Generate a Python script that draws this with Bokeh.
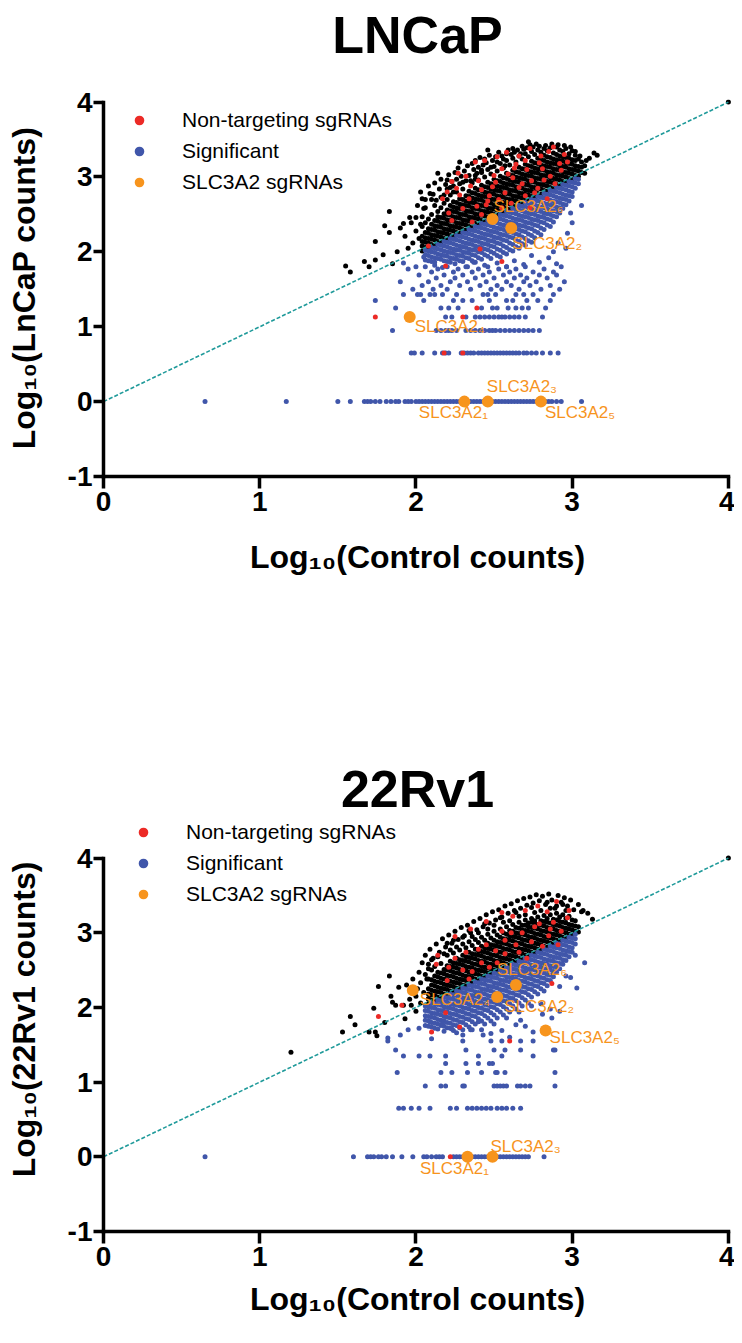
from bokeh.plotting import figure
from bokeh.models import Range1d, FixedTicker, Legend, LegendItem, ColumnDataSource
from bokeh.layouts import column
from bokeh.core.properties import value
from bokeh.embed import file_html
from bokeh.resources import INLINE

FONT = "Liberation Sans"
BLACK = "#000000"
RED = "#EC2A26"
BLUE = "#4056AA"
ORANGE = "#F7941D"
TEAL = "#1F9A9A"

# ---------------- data (log10 counts: x = control, y = treated) ----------------
diag_x = [0, 4]
diag_y = [0, 4]
x_ticks = [0, 1, 2, 3, 4]
y_ticks = [-1, 0, 1, 2, 3, 4]
slc_labels = ["SLC3A2\u2081", "SLC3A2\u2082", "SLC3A2\u2083",
              "SLC3A2\u2084", "SLC3A2\u2085", "SLC3A2\u2086"]

# ---- LNCaP ----
lncap_black_sparse = [(1.55, 1.81), (1.58, 1.73), (1.67, 1.87), (1.70, 1.80), (1.74, 1.89), (1.74, 2.14),
                      (1.79, 1.96), (1.80, 2.35), (1.83, 2.54), (1.83, 2.26), (1.85, 1.84), (1.88, 2.00),
                      (1.90, 2.32), (1.92, 2.38), (1.93, 2.21), (1.95, 2.05), (1.96, 2.46), (1.97, 2.39),
                      (1.98, 2.12), (2.00, 2.46), (2.00, 2.28), (2.02, 2.18), (2.03, 2.37), (2.04, 2.71),
                      (2.05, 2.58), (2.09, 2.78), (3.14, 3.32), (3.16, 3.29), (4.00, 4.00)]
lncap_black_upper = [(2.01, 2.62), (2.03, 2.80), (2.06, 2.70), (2.08, 2.88), (2.11, 2.77), (2.12, 2.92),
                     (2.13, 2.69), (2.15, 2.84), (2.16, 2.97), (2.18, 2.76), (2.19, 2.90), (2.21, 3.03),
                     (2.22, 2.86), (2.20, 2.96), (2.23, 2.94), (2.25, 3.06), (2.26, 2.97), (2.27, 3.12),
                     (2.29, 3.01), (2.30, 2.93), (2.31, 3.08), (2.24, 2.80), (2.33, 3.15), (2.34, 3.02),
                     (2.35, 2.95), (2.37, 3.10), (2.38, 3.22), (2.39, 3.05), (2.36, 3.18), (2.40, 3.13),
                     (2.41, 3.26), (2.43, 3.16), (2.44, 3.24), (2.45, 3.19), (2.47, 3.29), (2.48, 3.13),
                     (2.49, 3.22), (2.42, 3.09), (2.51, 3.27), (2.52, 3.20), (2.53, 3.33), (2.55, 3.28),
                     (2.56, 3.24), (2.58, 3.31), (2.59, 3.36), (2.57, 3.15), (2.61, 3.30), (2.62, 3.38),
                     (2.63, 3.33), (2.65, 3.36), (2.67, 3.31), (2.68, 3.41), (2.69, 3.37), (2.71, 3.39),
                     (2.73, 3.43), (2.75, 3.40), (2.77, 3.44), (2.79, 3.41), (2.83, 3.42), (2.87, 3.44),
                     (2.91, 3.43), (2.95, 3.42), (2.99, 3.40), (3.02, 3.34), (3.05, 3.28), (3.09, 3.22),
                     (3.11, 3.25), (2.14, 3.05), (2.28, 3.20), (2.46, 3.36), (2.72, 3.47), (2.38, 2.97)]
lncap_black_cols = [
    (2.04, [2.01, 2.08, 2.14, 2.21, 2.34, 2.47]),
    (2.06, [2.06, 2.13, 2.19, 2.26, 2.39, 2.59]),
    (2.08, [2.05, 2.12, 2.18, 2.25, 2.31, 2.44]),
    (2.10, [2.10, 2.17, 2.23, 2.30, 2.37, 2.50, 2.70]),
    (2.12, [2.09, 2.16, 2.22, 2.29, 2.35, 2.42, 2.62]),
    (2.14, [2.14, 2.21, 2.27, 2.34, 2.41, 2.47, 2.54]),
    (2.16, [2.13, 2.20, 2.26, 2.33, 2.39, 2.46, 2.59, 2.73]),
    (2.18, [2.18, 2.25, 2.31, 2.38, 2.45, 2.51, 2.65]),
    (2.20, [2.17, 2.24, 2.30, 2.37, 2.43, 2.50, 2.56, 2.70, 2.84]),
    (2.22, [2.22, 2.29, 2.35, 2.42, 2.49, 2.55, 2.62, 2.76]),
    (2.24, [2.21, 2.28, 2.34, 2.41, 2.47, 2.54, 2.60, 2.67, 2.88]),
    (2.26, [2.26, 2.33, 2.39, 2.46, 2.53, 2.59, 2.66, 2.80]),
    (2.28, [2.25, 2.32, 2.38, 2.45, 2.51, 2.58, 2.64, 2.71, 2.91]),
    (2.30, [2.30, 2.37, 2.43, 2.50, 2.57, 2.63, 2.70, 2.84]),
    (2.32, [2.29, 2.36, 2.42, 2.49, 2.55, 2.62, 2.68, 2.75, 2.95]),
    (2.34, [2.34, 2.41, 2.47, 2.54, 2.61, 2.67, 2.74, 2.81]),
    (2.36, [2.33, 2.40, 2.46, 2.53, 2.59, 2.66, 2.72, 2.79, 2.92]),
    (2.38, [2.38, 2.45, 2.51, 2.58, 2.65, 2.71, 2.78, 2.85, 3.02]),
    (2.40, [2.37, 2.44, 2.50, 2.57, 2.63, 2.70, 2.76, 2.83, 2.96]),
    (2.42, [2.42, 2.49, 2.55, 2.62, 2.69, 2.75, 2.82, 2.89, 3.06]),
    (2.44, [2.41, 2.48, 2.54, 2.61, 2.67, 2.74, 2.80, 2.87, 3.00]),
    (2.46, [2.46, 2.53, 2.59, 2.66, 2.73, 2.79, 2.86, 2.93, 3.10]),
    (2.48, [2.45, 2.52, 2.58, 2.65, 2.71, 2.78, 2.84, 2.91, 3.04]),
    (2.50, [2.50, 2.57, 2.63, 2.70, 2.77, 2.83, 2.90, 2.97, 3.14]),
    (2.52, [2.49, 2.56, 2.62, 2.69, 2.75, 2.82, 2.88, 2.95, 3.08]),
    (2.54, [2.54, 2.61, 2.67, 2.74, 2.81, 2.87, 2.94, 3.01, 3.18]),
    (2.56, [2.53, 2.60, 2.66, 2.73, 2.79, 2.86, 2.92, 2.99, 3.12]),
    (2.58, [2.58, 2.65, 2.71, 2.78, 2.85, 2.91, 2.98, 3.05, 3.22]),
    (2.60, [2.57, 2.64, 2.70, 2.77, 2.83, 2.90, 2.96, 3.03, 3.16]),
    (2.62, [2.62, 2.69, 2.75, 2.82, 2.89, 2.95, 3.02, 3.09, 3.25]),
    (2.64, [2.61, 2.68, 2.74, 2.81, 2.87, 2.94, 3.00, 3.07, 3.20]),
    (2.66, [2.66, 2.73, 2.79, 2.86, 2.93, 2.99, 3.06, 3.13, 3.28]),
    (2.68, [2.65, 2.72, 2.78, 2.85, 2.91, 2.98, 3.04, 3.11, 3.24]),
    (2.70, [2.70, 2.77, 2.83, 2.90, 2.97, 3.03, 3.10, 3.17, 3.31]),
    (2.72, [2.69, 2.76, 2.82, 2.89, 2.95, 3.02, 3.08, 3.15, 3.27]),
    (2.74, [2.74, 2.81, 2.87, 2.94, 3.01, 3.07, 3.14, 3.21, 3.34]),
    (2.76, [2.73, 2.80, 2.86, 2.93, 2.99, 3.06, 3.12, 3.19, 3.30]),
    (2.78, [2.78, 2.85, 2.91, 2.98, 3.05, 3.11, 3.18, 3.25, 3.36]),
    (2.80, [2.77, 2.84, 2.90, 2.97, 3.03, 3.10, 3.16, 3.23, 3.33]),
    (2.82, [2.82, 2.89, 2.95, 3.02, 3.09, 3.15, 3.22, 3.29, 3.38]),
    (2.84, [2.81, 2.88, 2.94, 3.01, 3.07, 3.14, 3.20, 3.27, 3.35]),
    (2.86, [2.86, 2.93, 2.99, 3.06, 3.13, 3.19, 3.26, 3.39]),
    (2.88, [2.85, 2.92, 2.98, 3.05, 3.11, 3.18, 3.24, 3.32]),
    (2.90, [2.90, 2.97, 3.03, 3.10, 3.17, 3.23, 3.30, 3.40]),
    (2.92, [2.89, 2.96, 3.02, 3.09, 3.15, 3.22, 3.28, 3.36]),
    (2.94, [2.94, 3.01, 3.07, 3.14, 3.21, 3.27, 3.34]),
    (2.96, [2.93, 3.00, 3.06, 3.13, 3.19, 3.26, 3.38]),
    (2.98, [2.98, 3.05, 3.11, 3.18, 3.25, 3.31]),
    (3.00, [2.97, 3.04, 3.10, 3.17, 3.23, 3.35]),
    (3.02, [3.02, 3.09, 3.15, 3.22, 3.29]),
    (3.04, [3.01, 3.08, 3.14, 3.24]),
    (3.06, [3.06, 3.13, 3.20]),
    (3.08, [3.05, 3.15]),
]
lncap_blue_cols = [
    (2.06, [2.02, 1.96, 1.89]),
    (2.08, [2.01, 1.95, 1.88]),
    (2.10, [2.06, 2.00, 1.93, 1.87]),
    (2.12, [2.05, 1.99, 1.92, 1.86]),
    (2.14, [2.10, 2.04, 1.97, 1.91]),
    (2.16, [2.09, 2.03, 1.96, 1.90]),
    (2.18, [2.14, 2.08, 2.01, 1.95, 1.88]),
    (2.20, [2.13, 2.07, 2.00, 1.94, 1.87]),
    (2.22, [2.18, 2.12, 2.05, 1.99, 1.92, 1.86]),
    (2.24, [2.17, 2.11, 2.04, 1.98, 1.91]),
    (2.26, [2.22, 2.16, 2.09, 2.03, 1.96, 1.90]),
    (2.28, [2.21, 2.15, 2.08, 2.02, 1.95, 1.88]),
    (2.30, [2.26, 2.20, 2.13, 2.07, 2.00, 1.94, 1.87]),
    (2.32, [2.25, 2.19, 2.12, 2.06, 1.99, 1.92]),
    (2.34, [2.30, 2.24, 2.17, 2.11, 2.04, 1.98, 1.91]),
    (2.36, [2.29, 2.23, 2.16, 2.10, 2.03, 1.96, 1.88]),
    (2.38, [2.34, 2.28, 2.21, 2.15, 2.08, 2.02, 1.95, 1.86]),
    (2.40, [2.33, 2.27, 2.20, 2.14, 2.07, 2.00, 1.92]),
    (2.42, [2.38, 2.32, 2.25, 2.19, 2.12, 2.06, 1.99, 1.90]),
    (2.44, [2.37, 2.31, 2.24, 2.18, 2.11, 2.04, 1.96]),
    (2.46, [2.42, 2.36, 2.29, 2.23, 2.16, 2.10, 2.03, 1.94]),
    (2.48, [2.41, 2.35, 2.28, 2.22, 2.15, 2.08, 2.00, 1.91]),
    (2.50, [2.46, 2.40, 2.33, 2.27, 2.20, 2.14, 2.07, 1.98]),
    (2.52, [2.45, 2.39, 2.32, 2.26, 2.19, 2.12, 2.04, 1.95]),
    (2.54, [2.50, 2.44, 2.37, 2.31, 2.24, 2.18, 2.11, 2.02, 1.93]),
    (2.56, [2.49, 2.43, 2.36, 2.30, 2.23, 2.16, 2.08, 1.99]),
    (2.58, [2.54, 2.48, 2.41, 2.35, 2.28, 2.22, 2.15, 2.06, 1.97]),
    (2.60, [2.53, 2.47, 2.40, 2.34, 2.27, 2.20, 2.12, 2.03]),
    (2.62, [2.58, 2.52, 2.45, 2.39, 2.32, 2.26, 2.19, 2.10, 2.01]),
    (2.64, [2.57, 2.51, 2.44, 2.38, 2.31, 2.24, 2.16, 2.07]),
    (2.66, [2.62, 2.56, 2.49, 2.43, 2.36, 2.30, 2.23, 2.14, 2.05]),
    (2.68, [2.61, 2.55, 2.48, 2.42, 2.35, 2.28, 2.20, 2.11]),
    (2.70, [2.66, 2.60, 2.53, 2.47, 2.40, 2.34, 2.27, 2.18, 2.09]),
    (2.72, [2.65, 2.59, 2.52, 2.46, 2.39, 2.32, 2.24, 2.15]),
    (2.74, [2.70, 2.64, 2.57, 2.51, 2.44, 2.38, 2.31, 2.22, 2.13]),
    (2.76, [2.69, 2.63, 2.56, 2.50, 2.43, 2.36, 2.28, 2.19]),
    (2.78, [2.74, 2.68, 2.61, 2.55, 2.48, 2.42, 2.35, 2.26]),
    (2.80, [2.73, 2.67, 2.60, 2.54, 2.47, 2.40, 2.32, 2.23]),
    (2.82, [2.78, 2.72, 2.65, 2.59, 2.52, 2.46, 2.39, 2.30]),
    (2.84, [2.77, 2.71, 2.64, 2.58, 2.51, 2.44, 2.36]),
    (2.86, [2.82, 2.76, 2.69, 2.63, 2.56, 2.50, 2.43, 2.34]),
    (2.88, [2.81, 2.75, 2.68, 2.62, 2.55, 2.48, 2.40]),
    (2.90, [2.86, 2.80, 2.73, 2.67, 2.60, 2.54, 2.47]),
    (2.92, [2.85, 2.79, 2.72, 2.66, 2.59, 2.52]),
    (2.94, [2.90, 2.84, 2.77, 2.71, 2.64, 2.58]),
    (2.96, [2.89, 2.83, 2.76, 2.70, 2.63]),
    (2.98, [2.94, 2.88, 2.81, 2.75, 2.68]),
    (3.00, [2.93, 2.87, 2.80, 2.74]),
    (3.02, [2.98, 2.92, 2.85]),
    (3.04, [2.97, 2.91]),
]
lncap_blue_sparse = [(1.92, 1.85), (2.00, 1.80), (2.05, 1.93), (2.12, 1.82), (2.17, 1.79), (2.25, 1.84),
                     (2.33, 1.80), (2.37, 1.86), (2.44, 1.82), (2.52, 1.85), (2.58, 1.80), (2.63, 1.88),
                     (2.69, 1.83), (2.74, 1.95), (2.79, 1.86), (2.85, 1.92), (2.90, 1.84), (2.96, 2.05),
                     (3.00, 2.39), (2.91, 2.12), (2.97, 2.25), (2.88, 2.00), (3.06, 2.62), (2.99, 2.52)]
lncap_blue_rows = [
    (0.00, [0.65, 1.17, 1.50, 1.58, 1.67, 1.69, 1.71, 1.74, 1.77, 1.81, 1.84, 1.87, 1.89, 1.93, 1.95,
            1.97, 2.00, 2.02, 2.04, 2.06, 2.08, 2.10, 2.12, 2.14, 2.16, 2.18, 2.20, 2.22, 2.24, 2.26,
            2.28, 2.30, 2.33, 2.35, 2.37, 2.39, 2.41, 2.43, 2.45, 2.47, 2.49, 2.51, 2.53, 2.55, 2.57,
            2.59, 2.61, 2.63, 2.65, 2.67, 2.69, 2.71, 2.73, 2.75, 2.77, 2.79, 2.81, 2.83, 2.85, 2.87,
            2.90, 2.93, 3.06]),
    (0.65, [1.97, 1.99, 2.04, 2.12, 2.17, 2.19, 2.21, 2.29, 2.31, 2.33, 2.35, 2.37, 2.40, 2.42, 2.44,
            2.46, 2.48, 2.50, 2.52, 2.54, 2.56, 2.58, 2.60, 2.62, 2.64, 2.66, 2.69, 2.71, 2.74, 2.77,
            2.81, 2.86, 2.91]),
    (0.95, [1.85, 2.13, 2.16, 2.19, 2.21, 2.23, 2.26, 2.32, 2.35, 2.38, 2.41, 2.44, 2.47, 2.49, 2.51,
            2.54, 2.57, 2.60, 2.63, 2.66, 2.69, 2.72, 2.75, 2.79]),
    (1.13, [2.19, 2.23, 2.32, 2.38, 2.41, 2.44, 2.47, 2.50, 2.53, 2.55, 2.57, 2.60, 2.63, 2.66, 2.70, 2.81]),
    (1.25, [1.87, 2.16, 2.21, 2.27, 2.42, 2.49, 2.52, 2.59, 2.64, 2.68, 2.72, 2.83]),
    (1.35, [1.74, 2.05, 2.24, 2.30, 2.36, 2.47, 2.58, 2.62, 2.71, 2.78, 2.86]),
    (1.43, [1.92, 2.01, 2.03, 2.09, 2.12, 2.17, 2.26, 2.43, 2.46, 2.51, 2.64, 2.69, 2.75, 2.88]),
    (1.50, [1.98, 2.11, 2.20, 2.35, 2.48, 2.55, 2.66, 2.80, 2.92]),
    (1.55, [2.04, 2.16, 2.28, 2.41, 2.52, 2.61, 2.73, 2.86]),
    (1.60, [1.90, 2.08, 2.22, 2.33, 2.45, 2.58, 2.69, 2.77, 2.95]),
    (1.65, [2.13, 2.25, 2.38, 2.50, 2.63, 2.71, 2.84]),
    (1.69, [2.02, 2.18, 2.30, 2.43, 2.56, 2.67, 2.79, 2.90]),
    (1.73, [2.10, 2.24, 2.36, 2.47, 2.60, 2.75, 2.88]),
    (1.77, [1.95, 2.14, 2.27, 2.40, 2.53, 2.64, 2.82]),
    (1.80, [2.06, 2.20, 2.32, 2.46, 2.58, 2.70, 2.93]),
]
lncap_red = [(2.23, 2.94), (2.26, 2.85), (2.34, 2.71), (2.42, 2.83), (2.45, 2.63), (2.51, 2.93),
             (2.55, 3.11), (2.62, 2.99), (2.64, 3.17), (2.68, 2.91), (2.74, 2.95), (2.76, 2.79),
             (2.81, 3.11), (2.85, 3.34), (2.86, 3.01), (2.89, 2.91), (2.40, 2.95), (2.30, 2.58),
             (2.23, 2.42), (2.47, 2.75), (2.57, 2.79), (2.70, 2.75), (2.55, 2.59), (2.17, 2.71),
             (2.21, 2.52), (2.32, 3.01), (2.38, 3.20), (2.52, 3.27), (2.66, 3.28), (2.79, 3.19),
             (2.93, 3.09), (2.42, 2.50), (2.61, 2.65), (2.73, 2.59), (2.84, 2.71), (2.36, 2.40),
             (2.49, 2.87), (2.59, 3.04), (2.71, 3.10), (2.97, 3.20), (2.78, 2.85), (2.28, 2.76),
             (2.27, 3.05), (2.44, 3.22), (2.58, 3.33), (2.73, 3.38), (2.88, 3.40), (2.35, 2.88),
             (2.50, 3.02), (2.63, 3.12), (2.80, 3.28), (2.95, 3.30), (2.46, 2.68), (2.66, 2.86),
             (2.82, 2.96), (2.20, 2.80), (2.53, 2.70), (2.39, 2.61), (2.92, 3.18), (2.70, 3.22),
             (1.74, 1.13), (2.08, 2.08), (2.19, 1.81), (2.39, 1.25), (2.41, 2.04), (2.55, 1.87),
             (2.18, 0.65), (2.30, 0.65), (2.30, 1.13)]
lncap_slc_x = [2.31, 2.61, 2.46, 1.96, 2.80, 2.49]
lncap_slc_y = [0.00, 2.32, 0.00, 1.13, 0.00, 2.44]

# ---- 22Rv1 ----
rv1_black_sparse = [(1.20, 1.40), (1.53, 1.67), (1.58, 1.88), (1.61, 1.77), (1.70, 1.67), (1.73, 1.99),
                    (1.74, 1.67), (1.75, 1.62), (1.76, 2.28), (1.80, 1.80), (1.83, 2.42), (1.84, 2.15),
                    (1.85, 2.07), (1.87, 2.03), (1.89, 2.27), (1.92, 2.03), (1.93, 1.85), (1.94, 2.30),
                    (1.96, 2.11), (1.97, 2.03), (2.00, 1.95), (2.00, 2.15), (2.01, 2.25), (2.03, 2.33),
                    (2.03, 2.06), (2.04, 2.60), (2.05, 2.20), (2.06, 2.44), (2.07, 2.38), (2.08, 2.52),
                    (2.02, 2.47), (1.98, 2.38), (2.08, 2.11), (3.06, 3.28), (3.13, 3.18), (4.00, 4.00)]
rv1_black_upper = [(2.06, 2.70), (2.09, 2.78), (2.11, 2.66), (2.13, 2.85), (2.15, 2.74), (2.17, 2.92),
                   (2.19, 2.81), (2.21, 2.97), (2.23, 2.86), (2.25, 3.02), (2.27, 2.91), (2.29, 3.07),
                   (2.31, 2.96), (2.33, 3.10), (2.35, 3.00), (2.37, 3.15), (2.39, 3.04), (2.41, 3.19),
                   (2.43, 3.08), (2.45, 3.24), (2.47, 3.13), (2.49, 3.28), (2.51, 3.17), (2.53, 3.31),
                   (2.55, 3.21), (2.57, 3.36), (2.59, 3.26), (2.61, 3.39), (2.63, 3.30), (2.65, 3.43),
                   (2.67, 3.33), (2.69, 3.46), (2.71, 3.37), (2.73, 3.48), (2.75, 3.40), (2.77, 3.51),
                   (2.79, 3.43), (2.81, 3.49), (2.83, 3.38), (2.85, 3.52), (2.87, 3.44), (2.89, 3.33),
                   (2.91, 3.50), (2.93, 3.41), (2.95, 3.47), (2.97, 3.36), (2.99, 3.44), (3.01, 3.31),
                   (3.04, 3.38), (3.07, 3.30), (3.10, 3.26), (2.20, 2.86), (2.30, 2.94), (2.40, 3.00),
                   (2.50, 3.10), (2.60, 3.16), (2.70, 3.24), (2.80, 3.30), (2.90, 3.36), (2.36, 2.95),
                   (2.46, 3.05), (2.56, 3.14), (2.66, 3.22), (2.76, 3.27), (2.86, 3.33), (2.96, 3.30),
                   (2.24, 2.90), (2.34, 3.03), (2.44, 3.12), (2.54, 3.20), (2.64, 3.27), (2.74, 3.34),
                   (2.84, 3.41), (2.94, 3.38)]
rv1_black_cols = [
    (2.08, [2.05, 2.12, 2.18, 2.25, 2.38, 2.58]),
    (2.10, [2.10, 2.17, 2.23, 2.30, 2.37, 2.50, 2.64]),
    (2.12, [2.09, 2.16, 2.22, 2.29, 2.35, 2.42, 2.55]),
    (2.14, [2.14, 2.21, 2.27, 2.34, 2.41, 2.47, 2.68]),
    (2.16, [2.13, 2.20, 2.26, 2.33, 2.39, 2.46, 2.59]),
    (2.18, [2.18, 2.25, 2.31, 2.38, 2.45, 2.51, 2.72]),
    (2.20, [2.17, 2.24, 2.30, 2.37, 2.43, 2.50, 2.56, 2.70]),
    (2.22, [2.22, 2.29, 2.35, 2.42, 2.49, 2.55, 2.62, 2.77]),
    (2.24, [2.21, 2.28, 2.34, 2.41, 2.47, 2.54, 2.60, 2.73]),
    (2.26, [2.26, 2.33, 2.39, 2.46, 2.53, 2.59, 2.66, 2.81]),
    (2.28, [2.25, 2.32, 2.38, 2.45, 2.51, 2.58, 2.64, 2.77]),
    (2.30, [2.30, 2.37, 2.43, 2.50, 2.57, 2.63, 2.70, 2.85]),
    (2.32, [2.29, 2.36, 2.42, 2.49, 2.55, 2.62, 2.68, 2.80]),
    (2.34, [2.34, 2.41, 2.47, 2.54, 2.61, 2.67, 2.74, 2.88]),
    (2.36, [2.33, 2.40, 2.46, 2.53, 2.59, 2.66, 2.72, 2.83]),
    (2.38, [2.38, 2.45, 2.51, 2.58, 2.65, 2.71, 2.78, 2.91]),
    (2.40, [2.37, 2.44, 2.50, 2.57, 2.63, 2.70, 2.76, 2.87]),
    (2.42, [2.42, 2.49, 2.55, 2.62, 2.69, 2.75, 2.82, 2.94]),
    (2.44, [2.41, 2.48, 2.54, 2.61, 2.67, 2.74, 2.80, 2.90]),
    (2.46, [2.46, 2.53, 2.59, 2.66, 2.73, 2.79, 2.86, 2.98]),
    (2.48, [2.45, 2.52, 2.58, 2.65, 2.71, 2.78, 2.84, 2.93]),
    (2.50, [2.50, 2.57, 2.63, 2.70, 2.77, 2.83, 2.90, 3.02]),
    (2.52, [2.49, 2.56, 2.62, 2.69, 2.75, 2.82, 2.88, 2.97]),
    (2.54, [2.54, 2.61, 2.67, 2.74, 2.81, 2.87, 2.94, 3.05]),
    (2.56, [2.53, 2.60, 2.66, 2.73, 2.79, 2.86, 2.92, 3.00]),
    (2.58, [2.58, 2.65, 2.71, 2.78, 2.85, 2.91, 2.98, 3.08]),
    (2.60, [2.57, 2.64, 2.70, 2.77, 2.83, 2.90, 2.96, 3.03]),
    (2.62, [2.62, 2.69, 2.75, 2.82, 2.89, 2.95, 3.02, 3.11]),
    (2.64, [2.61, 2.68, 2.74, 2.81, 2.87, 2.94, 3.00, 3.07]),
    (2.66, [2.66, 2.73, 2.79, 2.86, 2.93, 2.99, 3.06, 3.14]),
    (2.68, [2.65, 2.72, 2.78, 2.85, 2.91, 2.98, 3.04, 3.10]),
    (2.70, [2.70, 2.77, 2.83, 2.90, 2.97, 3.03, 3.10, 3.17]),
    (2.72, [2.69, 2.76, 2.82, 2.89, 2.95, 3.02, 3.08, 3.13]),
    (2.74, [2.74, 2.81, 2.87, 2.94, 3.01, 3.07, 3.14, 3.19]),
    (2.76, [2.73, 2.80, 2.86, 2.93, 2.99, 3.06, 3.12, 3.16]),
    (2.78, [2.78, 2.85, 2.91, 2.98, 3.05, 3.11, 3.21]),
    (2.80, [2.77, 2.84, 2.90, 2.97, 3.03, 3.10, 3.16]),
    (2.82, [2.82, 2.89, 2.95, 3.02, 3.09, 3.15, 3.23]),
    (2.84, [2.81, 2.88, 2.94, 3.01, 3.07, 3.14, 3.19]),
    (2.86, [2.86, 2.93, 2.99, 3.06, 3.13, 3.24]),
    (2.88, [2.85, 2.92, 2.98, 3.05, 3.11, 3.18]),
    (2.90, [2.90, 2.97, 3.03, 3.10, 3.17, 3.26]),
    (2.92, [2.89, 2.96, 3.02, 3.09, 3.15, 3.21]),
    (2.94, [2.94, 3.01, 3.07, 3.14, 3.24]),
    (2.96, [2.93, 3.00, 3.06, 3.13, 3.19]),
    (2.98, [2.98, 3.05, 3.11, 3.22]),
    (3.00, [2.97, 3.04, 3.10, 3.17]),
    (3.02, [3.02, 3.09, 3.16]),
    (3.04, [3.01, 3.08]),
]
rv1_blue_cols = [
    (2.06, [2.02, 1.96, 1.89, 1.83, 1.76]),
    (2.08, [2.01, 1.95, 1.88, 1.82, 1.75]),
    (2.10, [2.06, 2.00, 1.93, 1.87, 1.80, 1.74]),
    (2.12, [2.05, 1.99, 1.92, 1.86, 1.79, 1.72]),
    (2.14, [2.10, 2.04, 1.97, 1.91, 1.84, 1.78, 1.71]),
    (2.16, [2.09, 2.03, 1.96, 1.90, 1.83, 1.76]),
    (2.18, [2.14, 2.08, 2.01, 1.95, 1.88, 1.82, 1.75, 1.68]),
    (2.20, [2.13, 2.07, 2.00, 1.94, 1.87, 1.80, 1.73]),
    (2.22, [2.18, 2.12, 2.05, 1.99, 1.92, 1.86, 1.79, 1.72]),
    (2.24, [2.17, 2.11, 2.04, 1.98, 1.91, 1.84, 1.77, 1.69]),
    (2.26, [2.22, 2.16, 2.09, 2.03, 1.96, 1.90, 1.83, 1.76, 1.66]),
    (2.28, [2.21, 2.15, 2.08, 2.02, 1.95, 1.88, 1.81, 1.73]),
    (2.30, [2.26, 2.20, 2.13, 2.07, 2.00, 1.94, 1.87, 1.80, 1.70]),
    (2.32, [2.25, 2.19, 2.12, 2.06, 1.99, 1.92, 1.85, 1.77]),
    (2.34, [2.30, 2.24, 2.17, 2.11, 2.04, 1.98, 1.91, 1.84, 1.74]),
    (2.36, [2.29, 2.23, 2.16, 2.10, 2.03, 1.96, 1.89, 1.81, 1.70]),
    (2.38, [2.34, 2.28, 2.21, 2.15, 2.08, 2.02, 1.95, 1.88, 1.78]),
    (2.40, [2.33, 2.27, 2.20, 2.14, 2.07, 2.00, 1.93, 1.85]),
    (2.42, [2.38, 2.32, 2.25, 2.19, 2.12, 2.06, 1.99, 1.92, 1.82, 1.70]),
    (2.44, [2.37, 2.31, 2.24, 2.18, 2.11, 2.04, 1.97, 1.89, 1.78]),
    (2.46, [2.42, 2.36, 2.29, 2.23, 2.16, 2.10, 2.03, 1.96, 1.86]),
    (2.48, [2.41, 2.35, 2.28, 2.22, 2.15, 2.08, 2.01, 1.93, 1.82]),
    (2.50, [2.46, 2.40, 2.33, 2.27, 2.20, 2.14, 2.07, 2.00, 1.90, 1.78]),
    (2.52, [2.45, 2.39, 2.32, 2.26, 2.19, 2.12, 2.05, 1.97, 1.86]),
    (2.54, [2.50, 2.44, 2.37, 2.31, 2.24, 2.18, 2.11, 2.04, 1.94]),
    (2.56, [2.49, 2.43, 2.36, 2.30, 2.23, 2.16, 2.09, 2.01, 1.90]),
    (2.58, [2.54, 2.48, 2.41, 2.35, 2.28, 2.22, 2.15, 2.08, 1.98, 1.86]),
    (2.60, [2.53, 2.47, 2.40, 2.34, 2.27, 2.20, 2.13, 2.05, 1.94]),
    (2.62, [2.58, 2.52, 2.45, 2.39, 2.32, 2.26, 2.19, 2.12, 2.02]),
    (2.64, [2.57, 2.51, 2.44, 2.38, 2.31, 2.24, 2.17, 2.09, 1.98]),
    (2.66, [2.62, 2.56, 2.49, 2.43, 2.36, 2.30, 2.23, 2.16, 2.06, 1.94]),
    (2.68, [2.61, 2.55, 2.48, 2.42, 2.35, 2.28, 2.21, 2.13, 2.02]),
    (2.70, [2.66, 2.60, 2.53, 2.47, 2.40, 2.34, 2.27, 2.20, 2.10]),
    (2.72, [2.65, 2.59, 2.52, 2.46, 2.39, 2.32, 2.25, 2.17, 2.06]),
    (2.74, [2.70, 2.64, 2.57, 2.51, 2.44, 2.38, 2.31, 2.24, 2.14, 2.02]),
    (2.76, [2.69, 2.63, 2.56, 2.50, 2.43, 2.36, 2.29, 2.21]),
    (2.78, [2.74, 2.68, 2.61, 2.55, 2.48, 2.42, 2.35, 2.28, 2.18]),
    (2.80, [2.73, 2.67, 2.60, 2.54, 2.47, 2.40, 2.33, 2.25]),
    (2.82, [2.78, 2.72, 2.65, 2.59, 2.52, 2.46, 2.39, 2.32, 2.22]),
    (2.84, [2.77, 2.71, 2.64, 2.58, 2.51, 2.44, 2.37, 2.29]),
    (2.86, [2.82, 2.76, 2.69, 2.63, 2.56, 2.50, 2.43, 2.36]),
    (2.88, [2.81, 2.75, 2.68, 2.62, 2.55, 2.48, 2.41]),
    (2.90, [2.86, 2.80, 2.73, 2.67, 2.60, 2.54, 2.47]),
    (2.92, [2.85, 2.79, 2.72, 2.66, 2.59, 2.52]),
    (2.94, [2.90, 2.84, 2.77, 2.71, 2.64, 2.58]),
    (2.96, [2.89, 2.83, 2.76, 2.70, 2.63]),
    (2.98, [2.94, 2.88, 2.81, 2.75, 2.68]),
    (3.00, [2.93, 2.87, 2.80, 2.74]),
    (3.02, [2.98, 2.92, 2.85]),
]
rv1_blue_sparse = [(1.82, 1.59), (1.90, 1.63), (2.02, 1.72), (2.09, 1.81), (2.17, 1.79), (2.23, 1.71),
                   (2.30, 1.63), (2.40, 1.81), (2.43, 1.63), (2.48, 1.65), (2.55, 1.69), (2.64, 1.77),
                   (2.67, 1.83), (2.75, 1.67), (2.81, 1.91), (2.87, 1.86), (2.92, 1.95), (3.08, 2.60),
                   (3.03, 2.26), (2.99, 2.40), (2.96, 2.42), (3.02, 2.70), (2.92, 2.28), (2.86, 1.98),
                   (2.80, 2.05), (2.10, 1.58), (2.60, 1.60), (2.35, 1.70), (1.95, 1.70), (2.70, 1.75)]
rv1_blue_rows = [
    (0.00, [0.65, 1.60, 1.69, 1.71, 1.73, 1.76, 1.78, 1.81, 1.85, 1.91, 1.98, 2.05, 2.07, 2.10, 2.13,
            2.15, 2.17, 2.24, 2.26, 2.28, 2.30, 2.32, 2.34, 2.36, 2.38, 2.40, 2.42, 2.44, 2.46, 2.48,
            2.50, 2.52, 2.54, 2.56, 2.58, 2.60, 2.62, 2.64, 2.66, 2.68, 2.70, 2.72, 2.82]),
    (0.65, [1.89, 1.92, 1.97, 2.02, 2.09, 2.22, 2.26, 2.33, 2.36, 2.39, 2.42, 2.45, 2.48, 2.52, 2.55,
            2.58, 2.62, 2.67]),
    (0.95, [2.06, 2.16, 2.19, 2.30, 2.31, 2.50, 2.52, 2.54, 2.56, 2.58, 2.65, 2.67, 2.70, 2.73, 2.89]),
    (1.13, [1.88, 2.16, 2.23, 2.33, 2.42, 2.51, 2.52, 2.57, 2.89]),
    (1.25, [2.19, 2.32, 2.40, 2.47, 2.49]),
    (1.35, [1.92, 2.02, 2.09, 2.19, 2.40, 2.55, 2.75]),
    (1.43, [1.87, 2.32, 2.50, 2.57, 2.67, 2.88, 2.89]),
    (1.55, [1.82, 2.30, 2.48, 2.55, 2.67, 2.75]),
]
rv1_red = [(2.14, 2.70), (2.25, 2.66), (2.30, 2.50), (2.36, 2.48), (2.42, 2.60), (2.51, 2.76),
           (2.57, 2.90), (2.57, 2.72), (2.64, 2.84), (2.68, 3.00), (2.74, 2.88), (2.76, 3.08),
           (2.81, 2.82), (2.85, 2.96), (2.88, 3.14), (2.93, 3.02), (2.97, 3.20), (2.52, 2.60),
           (2.34, 2.38), (2.47, 2.54), (2.13, 2.58), (2.21, 2.54), (2.32, 2.74), (2.45, 2.84),
           (2.61, 3.00), (2.71, 2.66), (2.91, 2.84), (2.40, 2.78), (2.55, 3.02), (2.79, 3.12),
           (2.66, 2.74), (2.86, 3.05), (2.20, 2.36), (2.45, 3.15), (2.62, 3.22), (2.78, 3.36),
           (2.90, 3.42), (2.55, 3.27), (2.70, 3.30), (2.35, 3.05), (2.84, 3.28), (2.98, 3.30),
           (2.25, 2.95), (1.76, 1.88), (1.91, 2.03), (2.10, 1.67), (2.19, 1.93), (2.28, 1.74),
           (2.60, 1.55), (2.22, 0.00), (2.87, 2.32)]
rv1_slc_x = [2.33, 2.52, 2.49, 1.98, 2.83, 2.64]
rv1_slc_y = [0.00, 2.14, 0.00, 2.23, 1.69, 2.30]

# label placement (screen px) for SLC3A2 labels
lncap_lbl_dx = [-11, 1, -1, 5, 4, 1]
lncap_lbl_dy = [11, 16, -15, 9, 11, -12]
lncap_lbl_align = ["center", "left", "left", "left", "left", "left"]
rv1_lbl_dx = [-13, 7, -2, 7, 4, -19]
rv1_lbl_dy = [12, 9, -10, 9, 7, -16]
rv1_lbl_align = ["center", "left", "left", "left", "left", "left"]


def pts_xy(pts):
    return [p[0] for p in pts], [p[1] for p in pts]


def cols_xy(cols):
    xs, ys = [], []
    for x, yl in cols:
        for y in yl:
            xs.append(x)
            ys.append(y)
    return xs, ys


def rows_xy(rows):
    xs, ys = [], []
    for y, xl in rows:
        for x in xl:
            xs.append(x)
            ys.append(y)
    return xs, ys


def make_panel(title, ylabel, black_sparse, black_upper, black_cols, blue_cols, blue_sparse, blue_rows,
               red, slc_x, slc_y, dx, dy, align, height, b_top, b_bottom, y_end, title_standoff,
               xlab_standoff, legend_loc):
    p = figure(width=734, height=height, x_range=Range1d(0, 4.02), y_range=Range1d(-1, y_end),
               output_backend="svg", toolbar_location=None,
               min_border_left=103, min_border_right=3, min_border_top=b_top, min_border_bottom=b_bottom)
    p.title.text = title
    p.title.text_font = FONT
    p.title.text_font_size = "52px"
    p.title.text_font_style = "bold"
    p.title.text_color = BLACK
    p.title.align = "center"
    p.title.standoff = title_standoff
    p.outline_line_color = None
    p.xgrid.visible = False
    p.ygrid.visible = False

    bx1, by1 = pts_xy(black_sparse)
    bx2, by2 = pts_xy(black_upper)
    bx3, by3 = cols_xy(black_cols)
    p.scatter(bx1 + bx2 + bx3, by1 + by2 + by3, size=5, fill_color=BLACK, line_color=None)

    ux1, uy1 = cols_xy(blue_cols)
    ux2, uy2 = pts_xy(blue_sparse)
    ux3, uy3 = rows_xy(blue_rows)
    r_blue = p.scatter(ux1 + ux2 + ux3, uy1 + uy2 + uy3, size=5, fill_color=BLUE, line_color=None)

    p.line(diag_x, diag_y, line_color=TEAL, line_width=1.6, line_dash="4 2")

    rx, ry = pts_xy(red)
    r_red = p.scatter(rx, ry, size=5, fill_color=RED, line_color=None)

    r_org = p.scatter(slc_x, slc_y, size=12, fill_color=ORANGE, line_color=None)
    src = ColumnDataSource(dict(x=slc_x, y=slc_y, t=slc_labels, dx=dx, dy=dy, al=align))
    p.text(x="x", y="y", text="t", x_offset="dx", y_offset="dy", text_align="al",
           text_baseline="middle", text_color=ORANGE, text_font_size="17px",
           text_font=value(FONT), source=src)

    legend = Legend(items=[LegendItem(label="Non-targeting sgRNAs", renderers=[r_red]),
                           LegendItem(label="Significant", renderers=[r_blue]),
                           LegendItem(label="SLC3A2 sgRNAs", renderers=[r_org])],
                    location=legend_loc, margin=0, padding=5, spacing=7,
                    glyph_width=68, glyph_height=24, label_height=24, label_standoff=9,
                    label_text_font=FONT, label_text_font_size="21px", label_text_color=BLACK,
                    border_line_color=None, background_fill_alpha=0)
    p.add_layout(legend)

    p.xaxis.ticker = FixedTicker(ticks=x_ticks)
    p.yaxis.ticker = FixedTicker(ticks=y_ticks)
    p.yaxis.major_label_overrides = {-1: "-1"}
    p.xaxis.bounds = (0, 4)
    p.yaxis.bounds = (-1, 4)
    p.xaxis.axis_label = "Log\u2081\u2080(Control counts)"
    p.yaxis.axis_label = ylabel
    for ax in p.axis:
        ax.axis_line_width = 3.5
        ax.axis_line_cap = "square"
        ax.axis_line_color = BLACK
        ax.major_tick_line_width = 3.5
        ax.major_tick_line_color = BLACK
        ax.major_tick_in = 0
        ax.minor_tick_line_color = None
        ax.major_label_text_font = FONT
        ax.major_label_text_font_style = "bold"
        ax.major_label_text_font_size = "28px"
        ax.major_label_text_color = BLACK
        ax.axis_label_text_font = FONT
        ax.axis_label_text_font_style = "bold"
        ax.axis_label_text_font_size = "32px"
        ax.axis_label_text_color = BLACK
    p.xaxis.major_tick_out = 12
    p.xaxis.major_label_standoff = 3
    p.yaxis.major_tick_out = 10
    p.yaxis.major_label_standoff = 1
    p.xaxis.axis_label_standoff = xlab_standoff
    p.yaxis.axis_label_standoff = 23
    return p


p1 = make_panel("LNCaP", "Log\u2081\u2080(LnCaP counts)", lncap_black_sparse, lncap_black_upper,
                lncap_black_cols, lncap_blue_cols, lncap_blue_sparse, lncap_blue_rows, lncap_red,
                lncap_slc_x, lncap_slc_y, lncap_lbl_dx, lncap_lbl_dy, lncap_lbl_align,
                height=658, b_top=137, b_bottom=144, y_end=4.035, title_standoff=71,
                xlab_standoff=25, legend_loc=(2, 282))
p1.margin = (-38, 0, 0, 0)
p2 = make_panel("22Rv1", "Log\u2081\u2080(22Rv1 counts)", rv1_black_sparse, rv1_black_upper,
                rv1_black_cols, rv1_blue_cols, rv1_blue_sparse, rv1_blue_rows, rv1_red,
                rv1_slc_x, rv1_slc_y, rv1_lbl_dx, rv1_lbl_dy, rv1_lbl_align,
                height=707, b_top=187, b_bottom=96, y_end=4.6776, title_standoff=-20,
                xlab_standoff=12, legend_loc=(6, 325))
p2.margin = (0, 0, 0, 0)

layout = column(p1, p2, spacing=0)
open("out.html", "w").write(file_html(layout, INLINE))
